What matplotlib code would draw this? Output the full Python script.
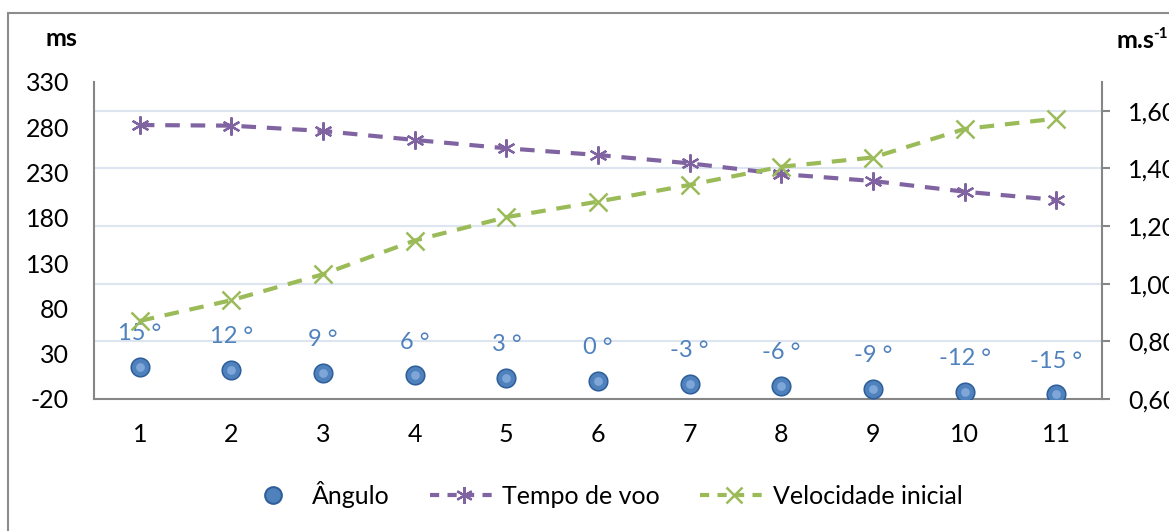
import matplotlib
matplotlib.use("Agg")
import matplotlib.pyplot as plt
from matplotlib.transforms import blended_transform_factory
from matplotlib.patches import Rectangle
from matplotlib.lines import Line2D

plt.rcParams['font.family'] = ['Lato', 'DejaVu Sans']

# Data
pontos = [1, 2, 3, 4, 5, 6, 7, 8, 9, 10, 11]
angulo = [15, 12, 9, 6, 3, 0, -3, -6, -9, -12, -15]
angulo_rotulos = ["15 °", "12 °", "9 °", "6 °", "3 °", "0 °", "-3 °", "-6 °", "-9 °", "-12 °", "-15 °"]
tempo_voo = [282.5, 281.8, 275.9, 266.0, 256.8, 249.4, 240.2, 228.4, 220.7, 208.9, 199.8]
velocidade = [0.871, 0.943, 1.033, 1.150, 1.231, 1.285, 1.343, 1.406, 1.438, 1.537, 1.573]
ms_ticks = [-20, 30, 80, 130, 180, 230, 280, 330]
vel_ticks = [0.6, 0.8, 1.0, 1.2, 1.4, 1.6]
vel_labels = ["0,60", "0,80", "1,00", "1,20", "1,40", "1,60"]

W, H = 1169, 531
fig = plt.figure(figsize=(W / 100, H / 100), dpi=100)

# outer chart frame
fig.patches.append(Rectangle((8 / W, -0.05), 1.2, 1 - 13 / H + 0.05,
                             transform=fig.transFigure, fill=False,
                             edgecolor='#8c8c8c', linewidth=1.5))

ax = fig.add_axes([94 / W, 1 - 399 / H, (1102 - 94) / W, (399 - 82) / H])
ax2 = ax.twinx()

ax.set_xlim(0.5, 11.5)
ax.set_ylim(-20, 330)
ax2.set_ylim(0.6, 1.7)

blue = '#4F81BD'
purple = '#8064A2'
green = '#9BBB59'
axis_gray = '#868686'
tick_fs = 18

# horizontal gridlines at the right-axis ticks
gt = blended_transform_factory(ax.transAxes, ax2.transData)
for v in vel_ticks[1:]:
    ax.plot([0, 1], [v, v], transform=gt, color='#dde5f1', lw=1.5, zorder=0)

# spines and ticks
for a in (ax, ax2):
    for s in a.spines.values():
        s.set_visible(False)
ax.spines['left'].set_visible(True)
ax.spines['left'].set_color(axis_gray)
ax.spines['bottom'].set_visible(True)
ax.spines['bottom'].set_color(axis_gray)
ax2.spines['right'].set_visible(True)
ax2.spines['right'].set_color(axis_gray)
for s in (ax.spines['left'], ax.spines['bottom'], ax2.spines['right']):
    s.set_linewidth(1.5)

ax.set_xticks(pontos)
ax.set_xticklabels([str(p) for p in pontos], fontsize=tick_fs)
ax.tick_params(axis='x', length=0, pad=17)
ax.set_yticks(ms_ticks)
ax.set_yticklabels([str(t) for t in ms_ticks], fontsize=tick_fs)
ax.tick_params(axis='y', length=0, pad=18)
ax2.set_yticks(vel_ticks)
ax2.set_yticklabels(vel_labels, fontsize=tick_fs)
ax2.tick_params(axis='y', length=6, width=1.5, color=axis_gray, pad=13, direction='out')

# Ângulo: blue spheres with value labels
ax.scatter(pontos, angulo, s=210, color='#2e5f9a', zorder=4, linewidths=0)
ax.scatter(pontos, angulo, s=150, color=blue, zorder=5, linewidths=0)
ax.scatter(pontos, angulo, s=40, color='#7ea6d8', zorder=6, linewidths=0)
for x, y, t in zip(pontos, angulo, angulo_rotulos):
    ax.annotate(t, (x, y), xytext=(0, 24), textcoords='offset points',
                ha='center', va='center', color=blue, fontsize=17)

# Tempo de voo (left axis)
asterisk = (6, 2, 0)
ax.plot(pontos, tempo_voo, color=purple, lw=3, dashes=(3.5, 2.6),
        marker=asterisk, markersize=13, markeredgewidth=1.6,
        markeredgecolor=purple, zorder=3)

# Velocidade inicial (right axis)
ax2.patch.set_visible(False)
ax2.plot(pontos, velocidade, color=green, lw=3, dashes=(3.5, 2.6),
         marker='x', markersize=13, markeredgewidth=1.8,
         markeredgecolor=green, zorder=3)

# axis unit titles
fig.text(61 / W, 1 - 38 / H, "ms", fontsize=18, fontweight='bold',
         ha='center', va='center')
fig.text(1116 / W, 1 - 41 / H, "m.s", fontsize=18, fontweight='bold',
         ha='left', va='center')
fig.text(1153 / W, 1 - 34 / H, "-1", fontsize=11, fontweight='bold',
         ha='left', va='center')

# legend
handles = [
    Line2D([], [], linestyle='none', marker='o', markersize=12,
           markerfacecolor=blue, markeredgecolor='#2e5f9a', markeredgewidth=1.5),
    Line2D([], [], color=purple, lw=3, dashes=(2.2, 2.0), marker=asterisk,
           markersize=12, markeredgewidth=1.6),
    Line2D([], [], color=green, lw=3, dashes=(2.2, 2.0), marker='x',
           markersize=12, markeredgewidth=1.8),
]
fig.legend(handles, ["Ângulo", "Tempo de voo", "Velocidade inicial"],
           loc='center', bbox_to_anchor=(601 / W, 1 - 494 / H), ncol=3,
           frameon=False, fontsize=18, handlelength=2.7, columnspacing=1.6,
           handletextpad=0.2)

fig.savefig("out.png", dpi=100)
